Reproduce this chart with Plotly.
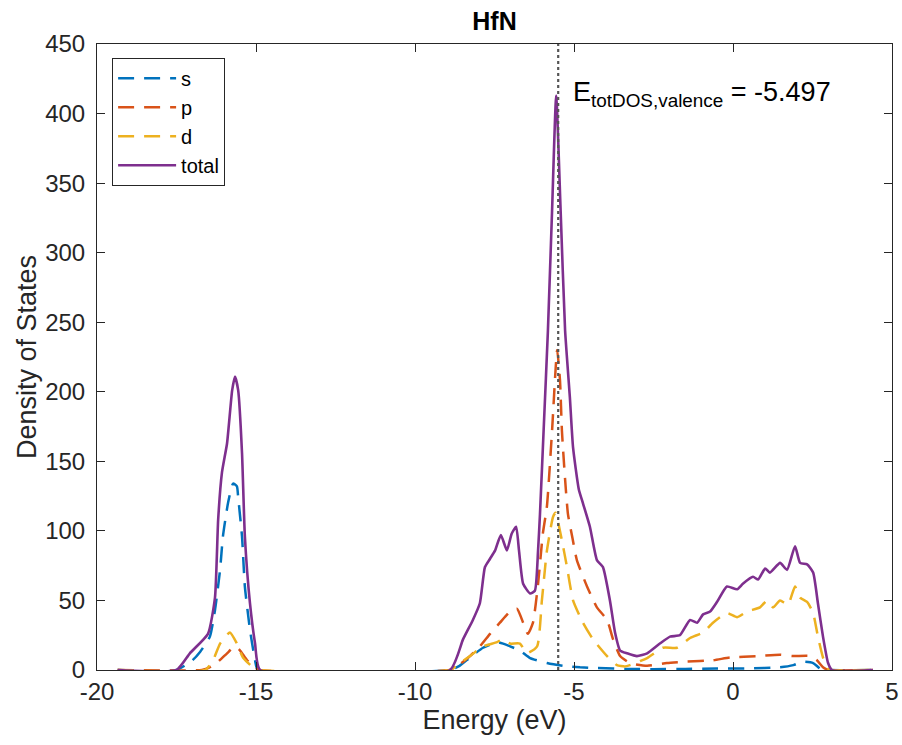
import plotly.graph_objects as go

# projected DOS of HfN
E_s = [-19.35, -17.5, -17.0, -16.76, -16.45, -16.29, -16.13, -16.04, -15.88, -15.72, -15.6, -15.56,
       -15.44, -15.35, -15.19, -15.03, -14.94, -8.9, -8.6, -8.27, -7.86, -7.42, -7.23, -7.01, -6.70,
       -6.38, -5.85, -5.34, -4.81, -4.28, -3.24, -2.5, -1.5, -0.5, 0.5, 1.48, 1.9, 2.2, 2.52, 2.74,
       2.95, 4.4]
dos_s = [0, 0, 7, 13, 24, 43, 72, 96, 120, 134, 132, 124, 96, 60, 29, 7, 0, 0, 3, 9, 16, 20, 19,
         17, 14, 8.6, 5, 3, 2, 1.4, 0.7, 0.6, 0.8, 1, 1.2, 2, 3.5, 6, 5, 1, 0, 0]

E_p = [-19.35, -16.7, -16.45, -16.19, -15.91, -15.66, -15.5, -15.28, -15.03, -14.9, -8.9, -8.6,
       -8.27, -7.96, -7.64, -7.33, -7.01, -6.79, -6.60, -6.45, -6.29, -6.13, -5.98, -5.85, -5.69,
       -5.53, -5.44, -5.38, -5.28, -5.19, -5.05, -4.91, -4.59, -4.28, -3.96, -3.77, -3.55, -3.24,
       -2.70, -2.08, -1.45, -0.63, -0.09, 0.76, 1.48, 1.89, 2.42, 2.64, 2.83, 3.0, 4.4]
dos_p = [0, 0, 2, 6, 12, 17, 14, 7, 2, 0, 0, 4, 10, 17, 26, 34, 42, 44, 34, 26, 34, 62, 98, 118,
         172, 230, 208, 172, 137, 112, 95, 79, 60, 45, 36, 22, 10, 5, 3, 5, 6, 7, 9, 10, 11, 10,
         10, 7, 2, 0, 0]

E_d = [-19.35, -16.6, -16.35, -16.13, -15.82, -15.6, -15.41, -15.1, -14.9, -8.9, -8.59, -8.27,
       -7.86, -7.42, -7.26, -7.01, -6.70, -6.48, -6.16, -6.01, -5.85, -5.66, -5.58, -5.38, -5.22,
       -5.03, -4.72, -4.40, -3.96, -3.65, -3.40, -3.24, -2.70, -2.20, -1.76, -1.35, -0.94, -0.63,
       -0.19, 0.13, 0.44, 0.85, 1.07, 1.26, 1.48, 1.73, 1.95, 2.11, 2.33, 2.52, 2.67, 2.83, 2.99,
       3.1, 4.4]
dos_d = [0, 0, 7, 19, 27, 19, 9, 2, 0, 0, 5, 10, 17, 20, 22, 19, 19, 12, 17, 50, 86, 110, 113,
         93, 74, 50, 34, 22, 10, 3.5, 2.5, 3.5, 8.6, 16, 16, 23, 27, 34, 41, 38, 42, 45, 50, 45,
         50, 47, 60, 52, 49, 41, 24, 9, 1, 0, 0]

E_tot = [-19.35, -17.5, -17.08, -16.51, -16.29, -16.19, -16.07, -15.91, -15.75, -15.66, -15.56,
         -15.44, -15.35, -15.19, -15.03, -14.87, -8.9, -8.49, -8.18, -7.96, -7.80, -7.64, -7.48,
         -7.30, -7.11, -6.96, -6.82, -6.73, -6.60, -6.38, -6.23, -6.13, -6.07, -5.95, -5.82, -5.69,
         -5.56, -5.42, -5.28, -5.13, -5.03, -4.85, -4.72, -4.50, -4.28, -4.09, -3.87, -3.71, -3.55,
         -3.33, -3.02, -2.70, -2.30, -1.98, -1.67, -1.35, -1.13, -0.94, -0.72, -0.50, -0.19, 0.13,
         0.31, 0.63, 0.79, 1.01, 1.16, 1.48, 1.70, 1.95, 2.11, 2.33, 2.52, 2.67, 2.83, 2.99, 3.11,
         4.4]
dos_tot = [0, 0, 12, 26, 52, 108, 142, 163, 201, 211, 201, 156, 96, 48, 19, 0, 0, 22, 36, 48, 74,
           80, 86, 97, 86, 98, 103, 86, 62, 55, 57, 86, 112, 175, 244, 330, 413, 330, 244, 196,
           160, 130, 120, 103, 79, 74, 50, 27, 14, 12, 10, 12, 19, 24, 25, 36, 34, 40, 42, 49, 60,
           58, 62, 67, 65, 73, 70, 77, 72, 89, 77, 76, 70, 48, 24, 5, 0, 0]

e_valence = -5.497

x_ticks = [-20, -15, -10, -5, 0, 5]
x_ticklabels = ["-20", "-15", "-10", "-5", "0", "5"]
y_ticks = [0, 50, 100, 150, 200, 250, 300, 350, 400, 450]

FONT = "Liberation Sans, Arial, Helvetica, sans-serif"
AX = "#262626"
DASH = "16px,10px"

fig = go.Figure()
fig.add_trace(go.Scatter(x=E_s, y=dos_s, name="s", mode="lines",
                         line=dict(color="#0072BD", width=2.5, dash=DASH, shape="spline", smoothing=0.5)))
fig.add_trace(go.Scatter(x=E_p, y=dos_p, name="p", mode="lines",
                         line=dict(color="#D95319", width=2.5, dash=DASH, shape="spline", smoothing=0.5)))
fig.add_trace(go.Scatter(x=E_d, y=dos_d, name="d", mode="lines",
                         line=dict(color="#EDB120", width=2.5, dash=DASH, shape="spline", smoothing=0.5)))
fig.add_trace(go.Scatter(x=E_tot, y=dos_tot, name="total", mode="lines",
                         line=dict(color="#7E2F8E", width=2.6, shape="spline", smoothing=0.5)))

# valence band DOS reference energy
fig.add_shape(type="line", x0=e_valence, x1=e_valence, y0=0, y1=450,
              line=dict(color="#555555", width=2.2, dash="dot"))
fig.add_annotation(x=e_valence + 0.4, y=414, xanchor="left", yanchor="middle", showarrow=False,
                   text="E<sub>totDOS,valence</sub> = %.3f" % e_valence,
                   font=dict(size=27, color="black", family=FONT))

axis = dict(showline=True, linecolor=AX, linewidth=1, mirror="ticks", ticks="inside",
            ticklen=8, tickcolor=AX, showgrid=False, zeroline=False, automargin=False,
            tickfont=dict(size=24, color=AX, family=FONT))

fig.update_layout(
    width=902, height=745,
    margin=dict(l=97, r=10, t=44, b=75),
    paper_bgcolor="white", plot_bgcolor="white",
    font=dict(family=FONT, color=AX),
    title=dict(text="<b>HfN</b>", xref="paper", x=0.5, xanchor="center", y=0.971, yanchor="middle",
               font=dict(size=25, color="black", family=FONT)),
    xaxis=dict(axis, range=[-20, 5], tickvals=x_ticks, ticktext=x_ticklabels, ticklabelstandoff=0,
               title=dict(text="Energy (eV)", standoff=0, font=dict(size=27, color=AX))),
    yaxis=dict(axis, range=[0, 450], tickvals=y_ticks, ticklabelstandoff=6,
               title=dict(text="Density of States", standoff=0, font=dict(size=27, color=AX))),
    legend=dict(x=0.019, y=0.978, xanchor="left", yanchor="top", bgcolor="white",
                bordercolor=AX, borderwidth=1, itemwidth=58,
                font=dict(size=20, color="black", family=FONT)),
    showlegend=True,
)

# drop the browser's default body margin so the figure fills the window exactly
fig.write_html("out.html", config={"displayModeBar": False},
               post_script="document.body.style.margin = '0px';")
